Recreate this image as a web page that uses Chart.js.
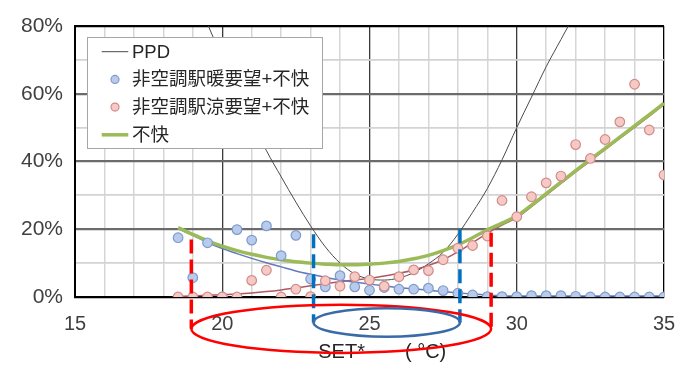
<!DOCTYPE html>
<html>
<head>
<meta charset="utf-8">
<script src="https://cdn.jsdelivr.net/npm/chart.js@4.4.1/dist/chart.umd.min.js"></script>
<style>
  html, body { margin: 0; padding: 0; background: #fff; }
  #wrap { width: 676px; height: 365px; }
</style>
</head>
<body>
<div id="wrap"><canvas id="chart" width="676" height="365"></canvas></div>
<script>
// SET* (°C) at which the station survey responses were binned
const setTemps = [18.5, 19, 19.5, 20, 20.5, 21, 21.5, 22, 22.5, 23,
                  23.5, 24, 24.5, 25, 25.5, 26, 26.5, 27, 27.5, 28, 28.5,
                  29, 29.5, 30, 30.5, 31, 31.5, 32, 32.5, 33, 33.5, 34, 34.5, 35];

// share (%) wanting it warmer + uncomfortable, non-air-conditioned stations
const warmShare = [17.5, 5.7, 16.0, 0, 19.9, 16.8, 21.0, 12.2, 18.2, 5.3,
                   3.0, 6.3, 3.0, 2.0, 2.8, 2.3, 2.3, 2.6, 1.9, 1.1, 0.6,
                   0.1, 0.1, 0.1, 0.4, 0.4, 0.4, 0.2, 0, 0, 0, 0, 0, 0];

// share (%) wanting it cooler + uncomfortable
const coolShare = [0, 0, 0, 0, 0, 4.9, 7.9, 0, 2.3, 0.1,
                   4.8, 3.2, 6.0, 5.0, 3.2, 6.0, 8.0, 7.8, 11.0, 14.4, 15.2,
                   18.0, 28.5, 23.7, 29.6, 33.7, 35.7, 45.0, 40.9, 46.5, 51.7, 62.8, 49.3, 36.0];

// fitted trends for the two groups
const warmTrend = [20.2, 18.2, 16.1, 14.3, 12.8, 11.4, 10.1, 8.9, 7.7, 6.7,
                   5.8, 5.0, 4.4, 3.8, 3.3, 2.8, 2.4, 2.0, 1.6, 1.2, 0.9,
                   0.6, 0.4, 0.3, 0.3, 0.3, 0.3, 0.3, 0.3, 0.3, 0.3, 0.3, 0.3, 0.3];
const coolTrend = [0.2, 0.3, 0.5, 0.7, 0.9, 1.2, 1.6, 2.1, 2.7, 3.3,
                   3.9, 4.5, 5.0, 5.5, 6.2, 7.0, 8.0, 9.3, 11.0, 13.3, 16.0,
                   18.8, 21.2, 23.4, 26.7, 30.1, 33.5, 36.9, 40.2, 43.5, 46.8, 50.1, 53.4, 56.8];

// overall discomfort (不快) curve
const discomfort = [20.5, 18.5, 16.6, 15.0, 13.7, 12.6, 11.7, 11.0, 10.4, 10.0,
                    9.7, 9.5, 9.5, 9.7, 10.0, 10.5, 11.3, 12.3, 13.7, 15.4, 17.5,
                    19.8, 21.8, 23.9, 27.1, 30.5, 33.9, 37.3, 40.6, 43.9, 47.2, 50.5, 53.8, 57.2];

// predicted percentage dissatisfied
const ppdTemps = [19, 19.5, 20, 20.5, 21, 21.5, 22, 22.5, 23, 23.5, 24, 24.5, 25,
                  25.5, 26, 26.5, 27, 27.5, 28, 28.5, 29, 29.5, 30, 30.5, 31, 31.5, 32];
const ppdValues = [91, 80.6, 70.5, 61.0, 52.0, 43.2, 35.5, 28.0, 21.0, 14.8, 10.0, 6.8, 5.3,
                   5.0, 5.6, 7.2, 9.8, 13.2, 18.5, 25.0, 32.0, 40.5, 50.0, 59.0, 68.0, 76.0, 84.0];

// SET* where each curve crosses the 20% line
const discomfortLimits = [18.95, 29.13];
const ppdLimits = [23.1, 28.07];

// axis ticks
const xTicks = [15, 20, 25, 30, 35];
const yTicks = [0, 20, 40, 60, 80];

const LATIN = '"Liberation Sans", Arial, "Noto Sans CJK JP", sans-serif';
const pts = (xs, ys) => xs.map((x, i) => ({ x, y: ys[i] }));

// legend drawn as a white box inside the plot, on top of the curves
const insetLegend = {
  id: 'insetLegend',
  afterDatasetsDraw(chart, args, o) {
    const ctx = chart.ctx, a = chart.chartArea;
    const x0 = a.left + o.left, y0 = a.top + o.top;
    ctx.save();
    ctx.fillStyle = '#fff';
    ctx.fillRect(x0, y0, o.width, o.height);
    ctx.strokeStyle = '#a6a6a6';
    ctx.lineWidth = 1;
    ctx.strokeRect(x0 + 0.5, y0 + 0.5, o.width, o.height);
    ctx.font = o.font;
    ctx.textBaseline = 'middle';
    ctx.textAlign = 'left';
    o.items.forEach((idx, i) => {
      const ds = chart.data.datasets[idx];
      const cy = y0 + o.firstRow + i * o.rowGap;
      if (ds.showLine === false) {
        ctx.beginPath();
        ctx.arc(x0 + o.markX, cy, o.dot, 0, Math.PI * 2);
        ctx.fillStyle = ds.backgroundColor;
        ctx.fill();
        ctx.lineWidth = ds.borderWidth;
        ctx.strokeStyle = ds.borderColor;
        ctx.stroke();
      } else {
        ctx.beginPath();
        ctx.moveTo(x0 + o.markX - o.lineHalf, cy);
        ctx.lineTo(x0 + o.markX + o.lineHalf, cy);
        ctx.lineWidth = ds.borderWidth;
        ctx.strokeStyle = ds.borderColor;
        ctx.stroke();
      }
      ctx.fillStyle = '#262626';
      ctx.fillText(ds.label, x0 + o.textX, cy + 1);
    });
    ctx.restore();
  }
};

// comfort-range markers: dashed drops from the 20% crossings and ellipses below the axis
const rangeMarks = {
  id: 'rangeMarks',
  afterDraw(chart, args, o) {
    const ctx = chart.ctx, xs = chart.scales.x, ys = chart.scales.y;
    ctx.save();
    o.ranges.forEach(r => {
      const yc = ys.getPixelForValue(r.centerY);
      ctx.setLineDash([14, 6]);
      ctx.lineWidth = 3.5;
      ctx.strokeStyle = r.dashColor;
      r.limits.forEach((v, i) => {
        const px = xs.getPixelForValue(v);
        ctx.beginPath();
        ctx.moveTo(px, ys.getPixelForValue(r.tops[i]));
        ctx.lineTo(px, yc);
        ctx.stroke();
      });
    });
    ctx.setLineDash([]);
    o.ranges.forEach(r => {
      const l = xs.getPixelForValue(r.limits[0]);
      const rr = xs.getPixelForValue(r.limits[1]);
      const yc = ys.getPixelForValue(r.centerY);
      const ry = Math.abs(ys.getPixelForValue(r.centerY + r.halfY) - yc);
      ctx.beginPath();
      ctx.ellipse((l + rr) / 2, yc, (rr - l) / 2, ry, 0, 0, Math.PI * 2);
      ctx.lineWidth = 2.5;
      ctx.strokeStyle = r.ringColor;
      ctx.stroke();
    });
    ctx.restore();
  }
};

const xGridColor = v => (v === 15 || v === 35) ? '#000' : (v % 5 === 0 ? '#3a3a3a' : '#d6d6d6');
const yGridColor = v => (v === 0 || v === 80) ? '#000' : (v % 20 === 0 ? '#6b6b6b' : '#d3d3d3');

new Chart(document.getElementById('chart'), {
  type: 'line',
  data: {
    datasets: [
      { label: 'PPD', data: pts(ppdTemps, ppdValues), borderColor: '#4a4a4a', borderWidth: 1,
        pointRadius: 0, cubicInterpolationMode: 'monotone', order: 6 },
      { label: 'warm trend', data: pts(setTemps, warmTrend), borderColor: '#6479bb', borderWidth: 1.5,
        pointRadius: 0, cubicInterpolationMode: 'monotone', order: 5 },
      { label: 'cool trend', data: pts(setTemps, coolTrend), borderColor: '#b05862', borderWidth: 1.5,
        pointRadius: 0, cubicInterpolationMode: 'monotone', order: 5 },
      { label: '不快', data: pts(setTemps, discomfort), borderColor: '#9bbb59', borderWidth: 3.5,
        pointRadius: 0, cubicInterpolationMode: 'monotone', order: 4 },
      { label: '非空調駅暖要望+不快', data: pts(setTemps, warmShare), showLine: false,
        backgroundColor: '#b9cbea', borderColor: '#7d9bd0', borderWidth: 1.2,
        pointRadius: 4.8, order: 2 },
      { label: '非空調駅涼要望+不快', data: pts(setTemps, coolShare), showLine: false,
        backgroundColor: '#f5cac5', borderColor: '#d38a8a', borderWidth: 1.2,
        pointRadius: 4.8, order: 1 }
    ]
  },
  options: {
    responsive: false,
    animation: false,
    devicePixelRatio: 1,
    layout: { padding: { left: 0, right: 12, top: 26, bottom: 0 } },
    plugins: {
      legend: { display: false },
      tooltip: { enabled: false },
      insetLegend: {
        left: 12, top: 11, width: 235, height: 111,
        firstRow: 14.7, rowGap: 27.7, markX: 28, lineHalf: 13.3, dot: 4, textX: 45,
        font: '18.5px ' + LATIN,
        items: [0, 4, 5, 3]
      },
      rangeMarks: {
        ranges: [
          { limits: discomfortLimits, tops: [17, 19], centerY: -9.4, halfY: 7.1,
            dashColor: '#ff0000', ringColor: '#ff0000' },
          { limits: ppdLimits, tops: [18.5, 20], centerY: -7.5, halfY: 4.2,
            dashColor: '#0070c0', ringColor: '#3b6aa8' }
        ]
      }
    },
    scales: {
      x: {
        type: 'linear', min: 15, max: 35,
        afterFit: s => { s.height = 68; },
        afterBuildTicks: s => { s.ticks = Array.from({ length: 21 }, (_, i) => ({ value: 15 + i })); },
        ticks: {
          autoSkip: false, maxRotation: 0, padding: 0, color: '#404040',
          font: { family: LATIN, size: 20 },
          callback: v => xTicks.includes(v) ? String(v) : ''
        },
        grid: {
          drawTicks: true, tickLength: 15, tickColor: 'rgba(0,0,0,0)',
          color: c => xGridColor(c.tick.value),
          lineWidth: c => (c.tick.value % 5 === 0 ? 1.3 : 1.5)
        },
        border: { color: '#000', width: 2 },
        title: {
          display: true, text: '\u3000 SET*\u3000\u3000( °C)', color: '#262626',
          font: { family: LATIN, size: 20 }, padding: { top: 0, bottom: 1 }
        }
      },
      y: {
        min: 0, max: 80,
        afterFit: s => { s.width = 75; },
        afterBuildTicks: s => { s.ticks = Array.from({ length: 9 }, (_, i) => ({ value: i * 10 })); },
        ticks: {
          padding: 0, color: '#404040',
          font: { family: LATIN, size: 21 },
          callback: v => yTicks.includes(v) ? v + '%' : ''
        },
        grid: {
          drawTicks: true, tickLength: 12, tickColor: 'rgba(0,0,0,0)',
          color: c => yGridColor(c.tick.value),
          lineWidth: c => (c.tick.value % 20 === 0 ? 2.2 : 1.8)
        },
        border: { color: '#000', width: 2 }
      }
    }
  },
  plugins: [insetLegend, rangeMarks]
});
</script>
</body>
</html>
